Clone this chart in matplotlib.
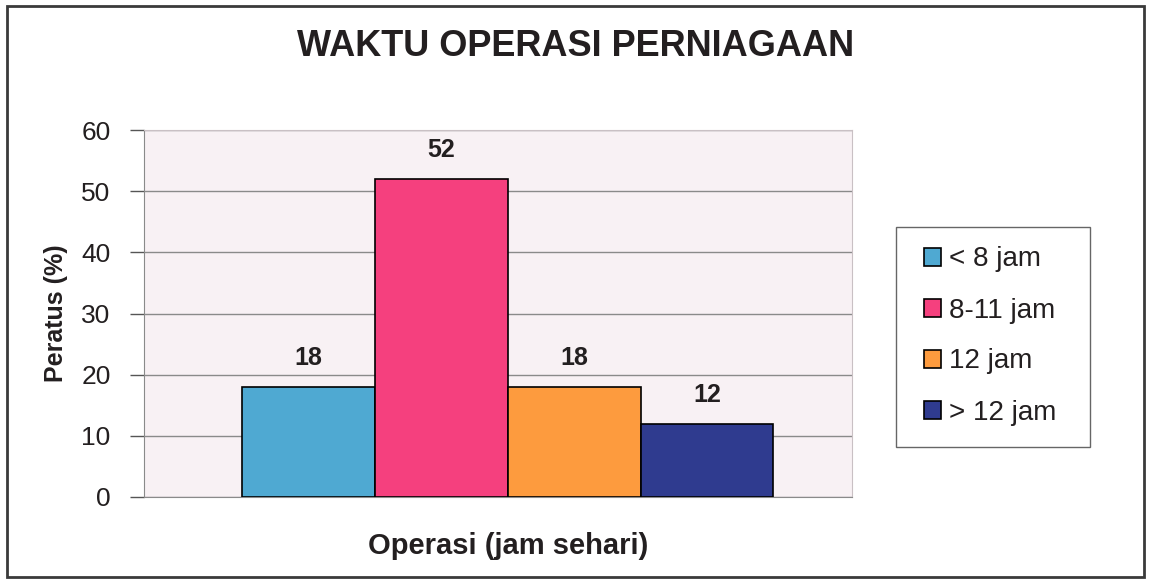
import matplotlib
matplotlib.use("Agg")
from matplotlib import pyplot as plt
from matplotlib.patches import Rectangle
import numpy as np

# data
kategori = ['< 8 jam', '8-11 jam', '12 jam', '> 12 jam']
peratus = [18, 52, 18, 12]
warna = ['#4fa9d2', '#f5407e', '#fd9b3e', '#2f3b8f']
yticks = [0, 10, 20, 30, 40, 50, 60]

plt.rcParams['font.family'] = ['Liberation Sans', 'DejaVu Sans']

fig = plt.figure(figsize=(11.51, 5.88), dpi=100)
fig.patch.set_facecolor('white')

# outer frame of the chart object
fig.add_artist(Rectangle((0.006, 0.018), 0.988, 0.972, transform=fig.transFigure,
                         fill=False, edgecolor='#3a3a3a', linewidth=2.0))

ax = fig.add_axes([144 / 1151, 1 - 497 / 588, (852 - 144) / 1151, (497 - 130) / 588])
ax.set_facecolor('#f8f1f4')

lebar = 0.1875
posisi = (np.arange(len(kategori)) - 1.5) * lebar + 0.014
for p, v, w, k in zip(posisi, peratus, warna, kategori):
    ax.bar(p, v, width=lebar, color=w, edgecolor='black', linewidth=1.2, label=k, zorder=3)
    ax.text(p, v + 4.7, str(v), ha='center', va='center', fontsize=18, fontweight='bold',
            color='#231f20', zorder=4)

ax.set_xlim(-0.5, 0.5)
ax.set_ylim(0, 60)
ax.set_yticks(yticks)
ax.set_yticklabels([str(t) for t in yticks], fontsize=19, color='#231f20')
ax.set_xticks([])
ax.tick_params(axis='y', length=10, width=1, color='#555555', pad=14)
ax.yaxis.grid(True, color='#8a8a8a', linewidth=1.0, zorder=0)
for s in ['top', 'right']:
    ax.spines[s].set_color('#c9c0c4')
ax.spines['left'].set_color('#8a8a8a')
ax.spines['bottom'].set_color('#8a8a8a')

ax.set_ylabel('Peratus (%)', fontsize=18, fontweight='bold', color='#231f20')
ax.yaxis.set_label_coords(-0.107, 0.5)
ax.set_xlabel('Operasi (jam sehari)', fontsize=21, fontweight='bold', color='#231f20')
ax.xaxis.set_label_coords(0.514, -0.095)

fig.text(0.5, 1 - 47 / 588, 'WAKTU OPERASI PERNIAGAAN', ha='center', va='center',
         fontsize=26, fontweight='bold', color='#231f20')

# legend box drawn separately so the padding can differ per side
fig.add_artist(Rectangle((896 / 1151, 1 - 447 / 588), 194 / 1151, 220 / 588,
                         transform=fig.transFigure, fill=False,
                         edgecolor='#666666', linewidth=1.0))
leg = ax.legend(loc='center left', bbox_to_anchor=(924 / 1151, 1 - 336 / 588),
                bbox_transform=fig.transFigure, fontsize=20, frameon=False,
                handlelength=0.6, handleheight=0.6, handletextpad=0.3, labelspacing=0.9,
                borderpad=0, borderaxespad=0)
for t in leg.get_texts():
    t.set_color('#231f20')

fig.savefig('out.png', dpi=100)
